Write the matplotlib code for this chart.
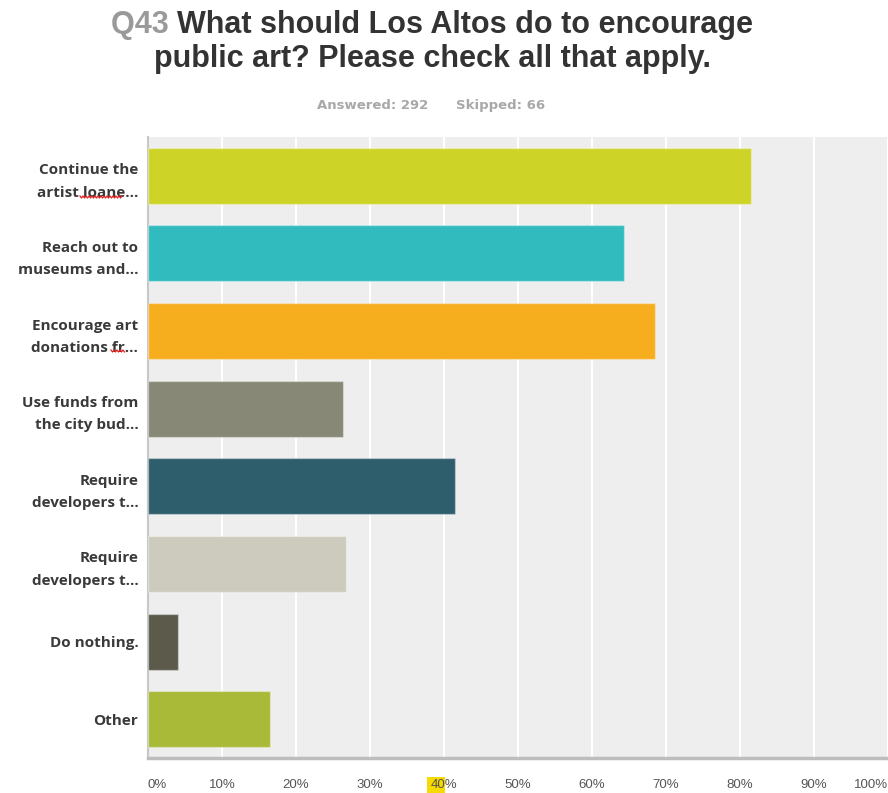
import matplotlib
matplotlib.use("Agg")
import numpy as np
import matplotlib.pyplot as plt
from matplotlib.patches import Rectangle
from matplotlib.lines import Line2D

categories = ["Continue the\nartist loane...", "Reach out to\nmuseums and...", "Encourage art\ndonations fr...",
              "Use funds from\nthe city bud...", "Require\ndevelopers t...", "Require\ndevelopers t...",
              "Do nothing.", "Other"]
values = [81.51, 64.38, 68.49, 26.37, 41.44, 26.71, 4.11, 16.44]
colors = ["#CDD427", "#31BBBE", "#F6AE1F", "#878875", "#2E5E6B", "#CDCBBD", "#5C5A4A", "#A8BA37"]
xticks = [0, 10, 20, 30, 40, 50, 60, 70, 80, 90, 100]
xticklabels = [f"{t}%" for t in xticks]

W, H = 888, 793
fig = plt.figure(figsize=(W / 100, H / 100), dpi=100)
ax = fig.add_axes([148 / W, 35 / H, 740 / W, 621 / H])
ax.set_facecolor("#EEEEEE")
y = list(range(len(categories)))
ax.barh(y, values, height=0.72, color=colors, edgecolor=(1, 1, 1, 0.35), linewidth=1, zorder=3)
ax.set_xlim(0, 100)
ax.set_ylim(len(categories) - 0.5, -0.5)
ax.set_xticks(xticks)
ax.xaxis.grid(True, color="white", linewidth=1.5, zorder=1)
ax.set_axisbelow(True)
ax.tick_params(axis="both", length=0)
ax.set_xticklabels(xticklabels, fontsize=9.5, color="#555555", family=["Liberation Sans", "DejaVu Sans"])
for i, lab in enumerate(ax.get_xticklabels()):
    if i == 0:
        lab.set_ha("left")
    elif i == len(xticks) - 1:
        lab.set_ha("right")
ax.tick_params(axis="x", pad=15)
ax.set_yticks(y)
ax.set_yticklabels(categories, fontsize=11, color="#3A3A3A", family=["Open Sans", "DejaVu Sans"],
                   fontweight="bold", linespacing=1.75)
ax.tick_params(axis="y", pad=7)
for s in ["top", "right"]:
    ax.spines[s].set_visible(False)
ax.spines["left"].set_color("#C8C8C8")
ax.spines["left"].set_linewidth(1.5)
ax.spines["bottom"].set_color("#BDBDBD")
ax.spines["bottom"].set_linewidth(2.5)

# yellow highlight behind "40"
fig.patches.append(Rectangle((427 / W, 0), 18 / W, 16 / H, transform=fig.transFigure,
                             facecolor="#F7DA00", edgecolor="none", zorder=-1))

# spell-check squiggles
def squiggle(x0, x1, yb):
    xs = np.arange(x0, x1 + 0.1, 1.5)
    ys = yb + np.where(np.arange(len(xs)) % 2 == 0, 0, 2)
    fig.add_artist(Line2D(xs / W, 1 - ys / H, color="#E02020", linewidth=0.9, transform=fig.transFigure))

squiggle(80, 122, 196)
squiggle(111, 125, 350)

# Title
tfont = dict(fontsize=22, fontweight="bold", family=["Liberation Sans", "DejaVu Sans"])
t1 = fig.text(0.5, 1 - 33 / H, "Q43 ", color="#9A9A9A", ha="left", va="baseline", **tfont)
t2 = fig.text(0, 1 - 33 / H, "What should Los Altos do to encourage", color="#333333", ha="left", va="baseline", **tfont)
fig.canvas.draw()
r = fig.canvas.get_renderer()
w1 = t1.get_window_extent(r).width
w2 = t2.get_window_extent(r).width
start = 432 - (w1 + w2) / 2
t1.set_x(start / W)
t2.set_x((start + w1) / W)
fig.text(432 / W, 1 - 67 / H, "public art? Please check all that apply.", color="#333333", ha="center", va="baseline", **tfont)
fig.text(431 / W, 1 - 106 / H, "Answered: 292      Skipped: 66", color="#A8A8A8", ha="center", va="center",
         fontsize=9.5, fontweight="bold", family=["DejaVu Sans"])

fig.savefig("out.png", dpi=100)
